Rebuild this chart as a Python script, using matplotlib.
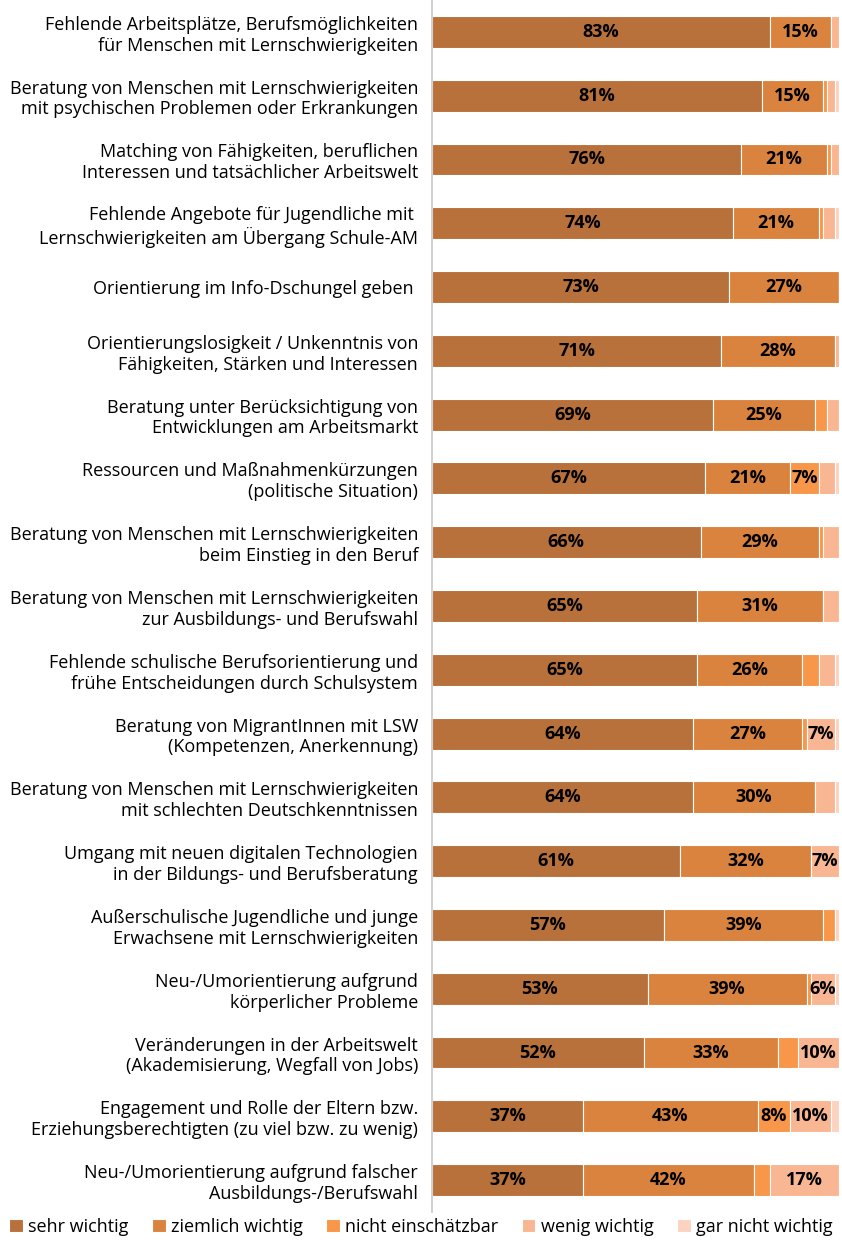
import matplotlib
matplotlib.use('Agg')
import matplotlib.pyplot as plt
import numpy as np

plt.rcParams['font.family'] = ['Open Sans', 'DejaVu Sans']

# ── Daten ────────────────────────────────────────────────
kategorien = [
    'Fehlende Arbeitsplätze, Berufsmöglichkeiten\nfür Menschen mit Lernschwierigkeiten',
    'Beratung von Menschen mit Lernschwierigkeiten\nmit psychischen Problemen oder Erkrankungen',
    'Matching von Fähigkeiten, beruflichen\nInteressen und tatsächlicher Arbeitswelt',
    'Fehlende Angebote für Jugendliche mit \nLernschwierigkeiten am Übergang Schule-AM',
    'Orientierung im Info-Dschungel geben ',
    'Orientierungslosigkeit / Unkenntnis von\nFähigkeiten, Stärken und Interessen',
    'Beratung unter Berücksichtigung von\nEntwicklungen am Arbeitsmarkt',
    'Ressourcen und Maßnahmenkürzungen\n(politische Situation)',
    'Beratung von Menschen mit Lernschwierigkeiten\nbeim Einstieg in den Beruf',
    'Beratung von Menschen mit Lernschwierigkeiten\nzur Ausbildungs- und Berufswahl',
    'Fehlende schulische Berufsorientierung und\nfrühe Entscheidungen durch Schulsystem',
    'Beratung von MigrantInnen mit LSW\n(Kompetenzen, Anerkennung)',
    'Beratung von Menschen mit Lernschwierigkeiten\nmit schlechten Deutschkenntnissen',
    'Umgang mit neuen digitalen Technologien\nin der Bildungs- und Berufsberatung',
    'Außerschulische Jugendliche und junge\nErwachsene mit Lernschwierigkeiten',
    'Neu-/Umorientierung aufgrund\nkörperlicher Probleme',
    'Veränderungen in der Arbeitswelt\n(Akademisierung, Wegfall von Jobs)',
    'Engagement und Rolle der Eltern bzw.\nErziehungsberechtigten (zu viel bzw. zu wenig)',
    'Neu-/Umorientierung aufgrund falscher\nAusbildungs-/Berufswahl',
]

sehr_wichtig      = [83, 81, 76, 74, 73, 71, 69, 67, 66, 65, 65, 64, 64, 61, 57, 53, 52, 37, 37]
ziemlich_wichtig  = [15, 15, 21, 21, 27, 28, 25, 21, 29, 31, 26, 27, 30, 32, 39, 39, 33, 43, 42]
nicht_einschaetz  = [0, 1, 1, 1, 0, 0, 3, 7, 1, 0, 4, 1, 0, 0, 3, 1, 5, 8, 4]
wenig_wichtig     = [2, 2, 2, 3, 0, 1, 3, 4, 4, 4, 4, 7, 5, 7, 0, 6, 10, 10, 17]
gar_nicht_wichtig = [0, 1, 0, 1, 0, 0, 0, 1, 0, 0, 1, 1, 1, 0, 1, 1, 0, 2, 0]

serien = [sehr_wichtig, ziemlich_wichtig, nicht_einschaetz, wenig_wichtig, gar_nicht_wichtig]
namen = ['sehr wichtig', 'ziemlich wichtig', 'nicht einschätzbar', 'wenig wichtig', 'gar nicht wichtig']
farben = ['#B8713A', '#DA833F', '#F8964A', '#F9B693', '#FCD3C1']

# ── Plot ─────────────────────────────────────────────────
fig = plt.figure(figsize=(8.42, 12.4), dpi=100)
ax = fig.add_axes([0.513, 0.0226, 0.485, 0.9774])

y = np.arange(len(kategorien))
links = np.zeros(len(kategorien))
for werte, name, farbe in zip(serien, namen, farben):
    werte = np.array(werte, dtype=float)
    bars = ax.barh(y, werte, left=links, height=0.5, color=farbe,
                   edgecolor='white', linewidth=0.8, label=name)
    for b, v in zip(bars, werte):
        if v >= 6:
            ax.text(b.get_x() + b.get_width() / 2, b.get_y() + b.get_height() / 2,
                    f'{int(v)}%', ha='center', va='center',
                    fontsize=13, fontweight='bold', color='black')
    links += werte

ax.set_xlim(0, 100.3)
ax.set_ylim(len(kategorien) - 0.5, -0.5)
ax.set_yticks(y)
ax.set_yticklabels(kategorien, fontsize=13, linespacing=1.2)
ax.tick_params(axis='y', length=0, pad=10)
ax.set_xticks([])
for s in ['top', 'right', 'bottom']:
    ax.spines[s].set_visible(False)
ax.spines['left'].set_color('#C8C8C8')
ax.spines['left'].set_linewidth(1.2)

fig.legend(loc='center', bbox_to_anchor=(0.5, 0.0105), ncol=5, frameon=False,
           fontsize=13, handlelength=0.75, handleheight=0.75, handletextpad=0.3,
           columnspacing=1.3, borderaxespad=0)

plt.savefig('out.png', dpi=100)
